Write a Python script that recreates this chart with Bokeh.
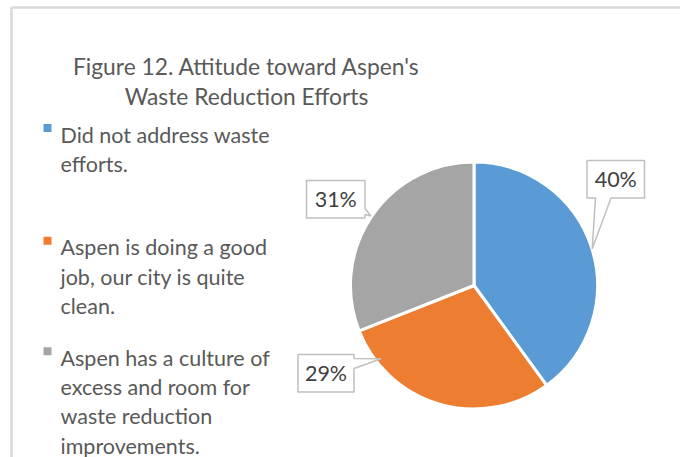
import math
from bokeh.plotting import figure
from bokeh.models import Range1d, ColumnDataSource
from bokeh.core.properties import value
from bokeh.embed import file_html
from bokeh.resources import INLINE

# ---- data ----
categories = [
    "Did not address waste efforts.",
    "Aspen is doing a good job, our city is quite clean.",
    "Aspen has a culture of excess and room for waste reduction improvements.",
]
values = [40, 29, 31]
pct_labels = ["40%", "29%", "31%"]
legend_lines = [
    ["Did not address waste", "efforts."],
    ["Aspen is doing a good", "job, our city is quite", "clean."],
    ["Aspen has a culture of", "excess and room for", "waste reduction", "improvements."],
]
title_lines = ["Figure 12. Attitude toward Aspen's", "Waste Reduction Efforts"]
colors = ["#5B9BD5", "#ED7D31", "#A5A5A5"]

# ---- layout (page pixels) ----
W, H = 680, 457
OX, OY = 0, 0
def X(px): return px - OX
def Y(py): return (H + OY) - py

p = figure(width=W, height=H, x_range=Range1d(0, W), y_range=Range1d(0, H),
           output_backend="svg", toolbar_location=None, min_border=0)
p.axis.visible = False
p.grid.visible = False
p.outline_line_color = None
p.background_fill_color = "white"

# frame (left and top edges)
p.line([X(11), X(11)], [Y(7), Y(470)], line_color="#D9D9D9", line_width=2.5)
p.line([X(11), X(690)], [Y(7), Y(7)], line_color="#D9D9D9", line_width=2.5)

# title
font = value("Lato")
for i, t in enumerate(title_lines):
    p.text([X(246)], [Y(65 + 30 * i)], text=[t], text_font=font, text_font_size="22.8px",
           text_color="#595959", text_align="center", text_baseline="alphabetic")

# pie
cx, cy, r = X(473.5), Y(285), 123.5
total = float(sum(values))
starts, ends = [], []
cum = 0.0
for v in values:
    starts.append(math.pi / 2 - 2 * math.pi * cum / total)
    cum += v
    ends.append(math.pi / 2 - 2 * math.pi * cum / total)
src = ColumnDataSource(dict(start=starts, end=ends, color=colors, cat=categories, val=values))
p.wedge(x=cx, y=cy, radius=r, start_angle="start", end_angle="end", direction="clock",
        fill_color="color", line_color="white", line_width=3, source=src)

# legend
leg_first_baseline = [134, 246.7, 357.3]
for i, lines in enumerate(legend_lines):
    b = leg_first_baseline[i]
    p.rect([X(47)], [Y(b - 6.5)], width=8, height=8, fill_color=colors[i], line_color=None)
    for j, ln in enumerate(lines):
        p.text([X(60)], [Y(b + 29.3 * j)], text=[ln], text_font=font, text_font_size="21.5px",
               text_color="#595959", text_align="left", text_baseline="alphabetic")

# data label callouts (box corners and pointer in page px)
boxes = [  # (left, top, right, bottom)
    (586.5, 160, 644, 197.5),
    (297.5, 354, 353.5, 391.5),
    (306, 180, 364.5, 217.5),
]
pointers = [
    ("bottom", (595, 610.5), (591.7, 248.3)),
    ("right", (358, 368), (380.5, 358.3)),
    ("right", (208, 214), (370.5, 215.5)),
]
xs, ys = [], []
for (l, t, rr, b), (side, (a1, a2), (tx, ty)) in zip(boxes, pointers):
    if side == "bottom":
        pts = [(l, t), (rr, t), (rr, b), (a2, b), (tx, ty), (a1, b), (l, b)]
    else:
        pts = [(l, t), (rr, t), (rr, a1), (tx, ty), (rr, a2), (rr, b), (l, b)]
    xs.append([X(px) for px, _ in pts])
    ys.append([Y(py) for _, py in pts])
p.patches(xs, ys, fill_color="white", line_color="#BFBFBF", line_width=1.5)
for (l, t, rr, b), lab in zip(boxes, pct_labels):
    p.text([X((l + rr) / 2)], [Y((t + b) / 2)], text=[lab], text_font=font,
           text_font_size="21.5px", text_color="#404040", text_align="center",
           text_baseline="middle")

open("out.html", "w").write(file_html(p, INLINE))
